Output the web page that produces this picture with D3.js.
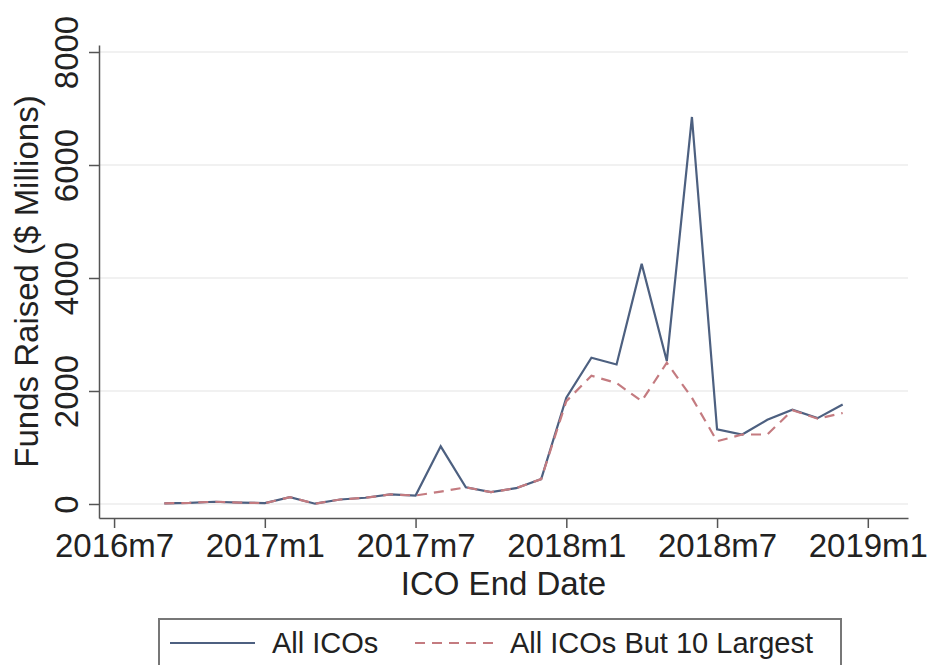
<!DOCTYPE html>
<html>
<head>
<meta charset="utf-8">
<script src="https://cdn.jsdelivr.net/npm/d3@7"></script>
<style>
  body { margin: 0; background: #fff; }
  svg { display: block; font-family: "Liberation Sans", Arial, sans-serif; }
</style>
</head>
<body>
<svg id="chart" width="927" height="665"></svg>
<script>
// monthly ICO funds raised ($ millions)
const months = ['2016m9', '2016m10', '2016m11', '2016m12', '2017m1', '2017m2', '2017m3',
    '2017m4', '2017m5', '2017m6', '2017m7', '2017m8', '2017m9', '2017m10', '2017m11',
    '2017m12', '2018m1', '2018m2', '2018m3', '2018m4', '2018m5', '2018m6', '2018m7',
    '2018m8', '2018m9', '2018m10', '2018m11', '2018m12'];
const allICOs = [10, 20, 40, 25, 15, 120, 5, 80, 110, 170, 150, 1020, 295, 210, 280,
    440, 1880, 2590, 2470, 4250, 2530, 6850, 1320, 1230, 1490, 1670, 1520, 1760];
const allButTop10 = [10, 20, 40, 25, 15, 120, 5, 80, 110, 170, 150, 220, 295, 210, 280,
    440, 1820, 2270, 2140, 1820, 2500, 1880, 1110, 1230, 1230, 1660, 1510, 1610];
const xTicks = ['2016m7', '2017m1', '2017m7', '2018m1', '2018m7', '2019m1'];
const yTicks = [0, 2000, 4000, 6000, 8000];
const legendLabels = ['All ICOs', 'All ICOs But 10 Largest'];

// months since 2016m7
function monthIndex(s) {
    let p = s.split('m');
    return (+p[0] - 2016) * 12 + (+p[1] - 7);
}

let svg = d3.select('#chart');
let plotLeft = 99, plotRight = 908, plotTop = 45, plotBottom = 518;

let x = d3.scaleLinear().domain([-0.6, 31.6]).range([plotLeft, plotRight]);
let y = d3.scaleLinear().domain([-248, 8124]).range([plotBottom, plotTop]);

// gridlines
svg.append('g')
    .selectAll('line')
    .data(yTicks)
    .enter()
    .append('line')
    .attr('x1', plotLeft)
    .attr('x2', plotRight)
    .attr('y1', d => y(d))
    .attr('y2', d => y(d))
    .style('stroke', '#ececec')
    .style('stroke-width', 1.5);

// y axis
let yAxis = svg.append('g')
    .attr('transform', 'translate(' + plotLeft + ',0)')
    .call(d3.axisLeft(y).tickValues(yTicks).tickFormat(d3.format('d'))
        .tickSize(10).tickSizeOuter(0).tickPadding(10));
yAxis.select('.domain').style('stroke', '#555').style('stroke-width', 1.5);
yAxis.selectAll('.tick line').style('stroke', '#555').style('stroke-width', 1.5);
yAxis.selectAll('.tick text')
    .attr('transform', 'rotate(-90)')
    .attr('x', 0)
    .attr('y', -21)
    .attr('dy', 0)
    .style('text-anchor', 'middle')
    .style('font-size', '33px')
    .style('fill', '#222');

// x axis
let xAxis = svg.append('g')
    .attr('transform', 'translate(0,' + plotBottom + ')')
    .call(d3.axisBottom(x)
        .tickValues(xTicks.map(monthIndex))
        .tickFormat((d, i) => xTicks[i])
        .tickSize(10).tickSizeOuter(0).tickPadding(6));
xAxis.select('.domain').style('stroke', '#555').style('stroke-width', 1.5);
xAxis.selectAll('.tick line').style('stroke', '#555').style('stroke-width', 1.5);
xAxis.selectAll('.tick text')
    .attr('dy', '0.71em')
    .style('font-size', '33px')
    .style('fill', '#222');

// axis titles
svg.append('text')
    .attr('x', (plotLeft + plotRight) / 2)
    .attr('y', 595)
    .attr('text-anchor', 'middle')
    .style('font-size', '33px')
    .style('fill', '#222')
    .text('ICO End Date');

svg.append('text')
    .attr('transform', 'translate(38,' + (plotTop + plotBottom) / 2 + ') rotate(-90)')
    .attr('text-anchor', 'middle')
    .style('font-size', '33px')
    .style('fill', '#222')
    .text('Funds Raised ($ Millions)');

// lines
let line = d3.line()
    .x(d => x(monthIndex(d[0])))
    .y(d => y(d[1]));

svg.append('path')
    .datum(months.map((m, i) => [m, allICOs[i]]))
    .attr('d', line)
    .style('fill', 'none')
    .style('stroke', '#4d6080')
    .style('stroke-width', 2.2);

svg.append('path')
    .datum(months.map((m, i) => [m, allButTop10[i]]))
    .attr('d', line)
    .style('fill', 'none')
    .style('stroke', '#c47b80')
    .style('stroke-width', 2.2)
    .style('stroke-dasharray', '10,7');

// legend
let legend = svg.append('g');
legend.append('rect')
    .attr('x', 159)
    .attr('y', 619)
    .attr('width', 682)
    .attr('height', 60)
    .style('fill', 'none')
    .style('stroke', '#777')
    .style('stroke-width', 2);

let legendItems = [
    {x1: 170, x2: 255, tx: 272, color: '#4d6080', dash: null},
    {x1: 415, x2: 497, tx: 510, color: '#c47b80', dash: '10,7'}
];
legendItems.forEach(function (item, i) {
    legend.append('line')
        .attr('x1', item.x1)
        .attr('x2', item.x2)
        .attr('y1', 643)
        .attr('y2', 643)
        .style('stroke', item.color)
        .style('stroke-width', 2.2)
        .style('stroke-dasharray', item.dash);
    legend.append('text')
        .attr('x', item.tx)
        .attr('y', 653)
        .style('font-size', '29px')
        .style('fill', '#222')
        .text(legendLabels[i]);
});
</script>
</body>
</html>
